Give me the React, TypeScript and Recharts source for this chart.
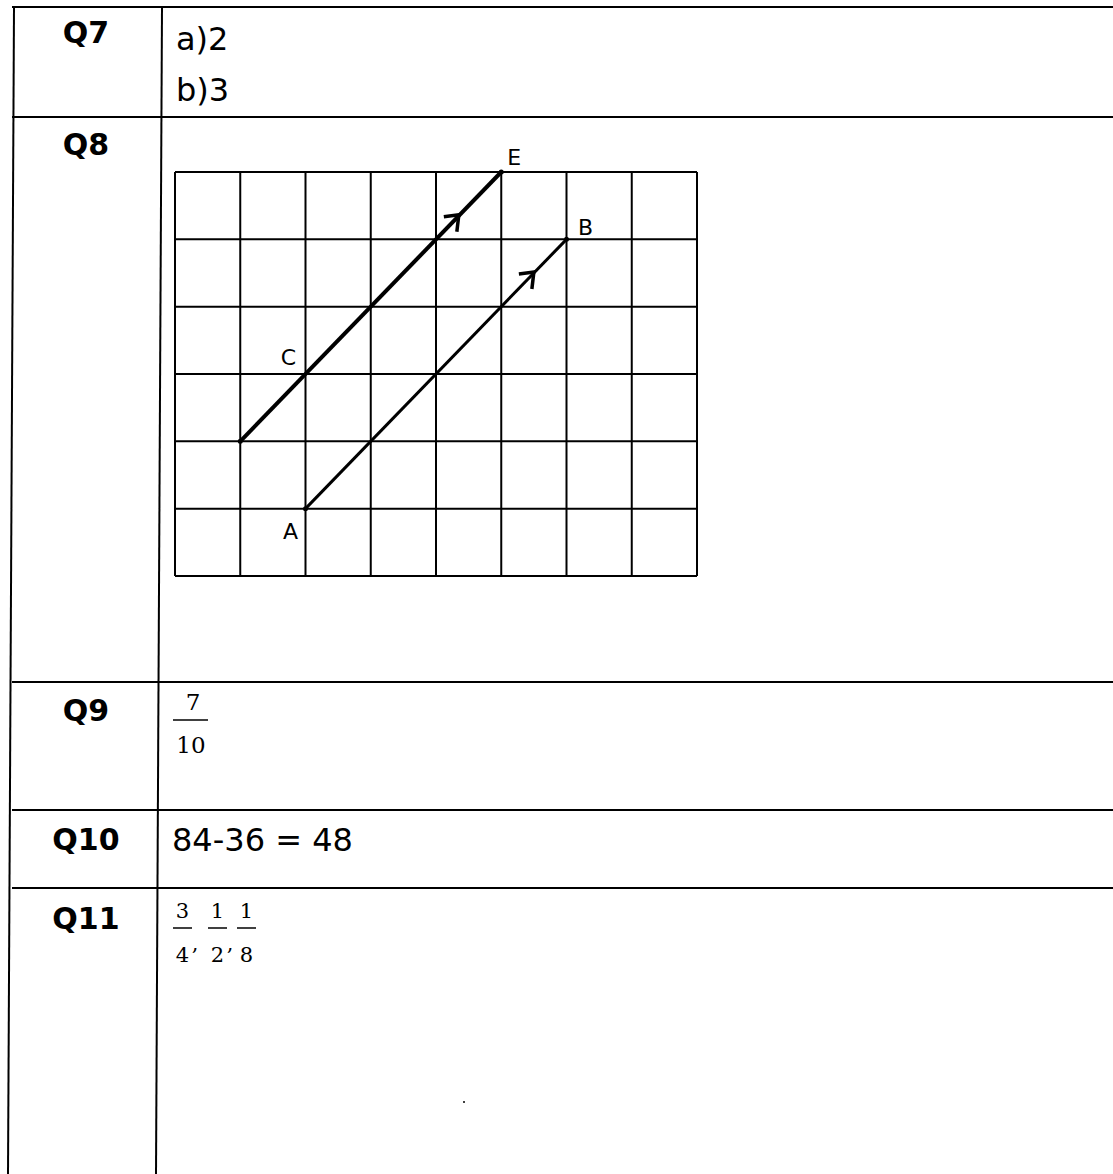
import React from 'react';
import { ComposedChart, XAxis, YAxis, ReferenceLine, Scatter } from 'recharts';

// grid of the Q8 drawing, in squares
const gridCols = [0, 1, 2, 3, 4, 5, 6, 7, 8];
const gridRows = [0, 1, 2, 3, 4, 5, 6];

// the two parallel lines
const lineCE = [
  { x: 1, y: 2 },
  { x: 5, y: 6 },
];
const lineAB = [
  { x: 2, y: 1 },
  { x: 6, y: 5 },
];
const arrowPoints = [
  { x: 4.35, y: 5.35 },
  { x: 5.5, y: 4.5 },
];
const pointLabels = [
  { x: 5, y: 6, name: 'E' },
  { x: 6, y: 5, name: 'B' },
  { x: 2, y: 3, name: 'C' },
  { x: 2, y: 1, name: 'A' },
];

const questions = ['Q7', 'Q8', 'Q9', 'Q10', 'Q11'];
const q7Answers = ['a)2', 'b)3'];
const q9Fraction = ['7', '10'];
const q10Answer = '84-36 = 48';
const q11Fractions = [
  ['3', '4'],
  ['1', '2'],
  ['1', '8'],
];

const labelOffset: Record<string, [number, number]> = {
  E: [13, -7],
  B: [19, -4],
  C: [-17, -9],
  A: [-15, 30],
};

const rowLines = [7, 117, 682, 810, 888];
const qBaselines = [43, 155, 721, 850, 929];
const sans = '"DejaVu Sans", sans-serif';
const serif = '"DejaVu Serif", serif';

function Dot(props: any) {
  return <circle cx={props.cx} cy={props.cy} r={2.5} fill="#000" />;
}

function Arrow(props: any) {
  const { cx, cy } = props;
  return (
    <path
      d={`M ${cx - 15} ${cy + 1} L ${cx} ${cy - 1} L ${cx - 2} ${cy + 16}`}
      stroke="#000"
      strokeWidth={3.5}
      fill="none"
      strokeLinejoin="miter"
    />
  );
}

function PointLabel(props: any) {
  const name = props.payload?.name ?? '';
  const [dx, dy] = labelOffset[name] || [0, 0];
  return (
    <text x={props.cx + dx} y={props.cy + dy} textAnchor="middle" fontFamily={sans} fontSize={22} fill="#000">
      {name}
    </text>
  );
}

function GridDrawing() {
  return (
    <ComposedChart width={582} height={464} margin={{ top: 30, right: 30, bottom: 30, left: 30 }}>
      <XAxis type="number" dataKey="x" domain={[0, 8]} ticks={gridCols} hide />
      <YAxis type="number" dataKey="y" domain={[0, 6]} ticks={gridRows} hide />
      {gridCols.map(c => (
        <ReferenceLine key={`c${c}`} x={c} stroke="#000" strokeWidth={2} ifOverflow="visible" />
      ))}
      {gridRows.map(r => (
        <ReferenceLine key={`r${r}`} y={r} stroke="#000" strokeWidth={2} ifOverflow="visible" />
      ))}
      <Scatter data={lineCE} dataKey="y" line={{ stroke: '#000', strokeWidth: 4 }} shape={Dot} isAnimationActive={false} />
      <Scatter data={lineAB} dataKey="y" line={{ stroke: '#000', strokeWidth: 3 }} shape={Dot} isAnimationActive={false} />
      <Scatter data={arrowPoints} dataKey="y" shape={Arrow} isAnimationActive={false} />
      <Scatter data={pointLabels} dataKey="y" shape={PointLabel} isAnimationActive={false} />
    </ComposedChart>
  );
}

export default function App() {
  return (
    <div style={{ position: 'absolute', left: 0, top: 0, width: 1113, height: 1174, background: '#fff' }}>
      <svg width={1113} height={1174} style={{ position: 'absolute', left: 0, top: 0 }}>
        {/* table rules */}
        {rowLines.map(y => (
          <line key={y} x1={12} y1={y} x2={1113} y2={y} stroke="#000" strokeWidth={2} />
        ))}
        <line x1={14} y1={7} x2={8} y2={1174} stroke="#000" strokeWidth={2} />
        <line x1={162} y1={7} x2={156} y2={1174} stroke="#000" strokeWidth={2} />

        {questions.map((q, i) => (
          <text key={q} x={86} y={qBaselines[i]} textAnchor="middle" fontFamily={sans} fontWeight={700} fontSize={30} fill="#000">
            {q}
          </text>
        ))}

        {q7Answers.map((a, i) => (
          <text key={a} x={176} y={50 + i * 51} fontFamily={sans} fontSize={32} fill="#000">
            {a}
          </text>
        ))}

        {/* Q9 */}
        <text x={193} y={710} textAnchor="middle" fontFamily={serif} fontSize={23} fill="#000">{q9Fraction[0]}</text>
        <line x1={173} y1={720} x2={208} y2={720} stroke="#000" strokeWidth={1.5} />
        <text x={191} y={753} textAnchor="middle" fontFamily={serif} fontSize={23} fill="#000">{q9Fraction[1]}</text>

        {/* Q10 */}
        <text x={172} y={851} fontFamily={sans} fontSize={32} fill="#000">{q10Answer}</text>

        {/* Q11 */}
        {q11Fractions.map(([n, d], i) => {
          const x0 = [173, 208, 237][i];
          const w = 19;
          return (
            <g key={i}>
              <text x={x0 + w / 2} y={918} textAnchor="middle" fontFamily={serif} fontSize={21} fill="#000">{n}</text>
              <line x1={x0} y1={928} x2={x0 + w} y2={928} stroke="#000" strokeWidth={1.5} />
              <text x={x0 + w / 2} y={962} textAnchor="middle" fontFamily={serif} fontSize={21} fill="#000">{d}</text>
              {i < 2 && (
                <text x={x0 + w + 3} y={950} textAnchor="middle" fontFamily={serif} fontSize={21} fill="#000">,</text>
              )}
            </g>
          );
        })}
        <circle cx={464} cy={1102} r={1} fill="#000" />
      </svg>
      <div style={{ position: 'absolute', left: 145, top: 142 }}>
        <GridDrawing />
      </div>
    </div>
  );
}
